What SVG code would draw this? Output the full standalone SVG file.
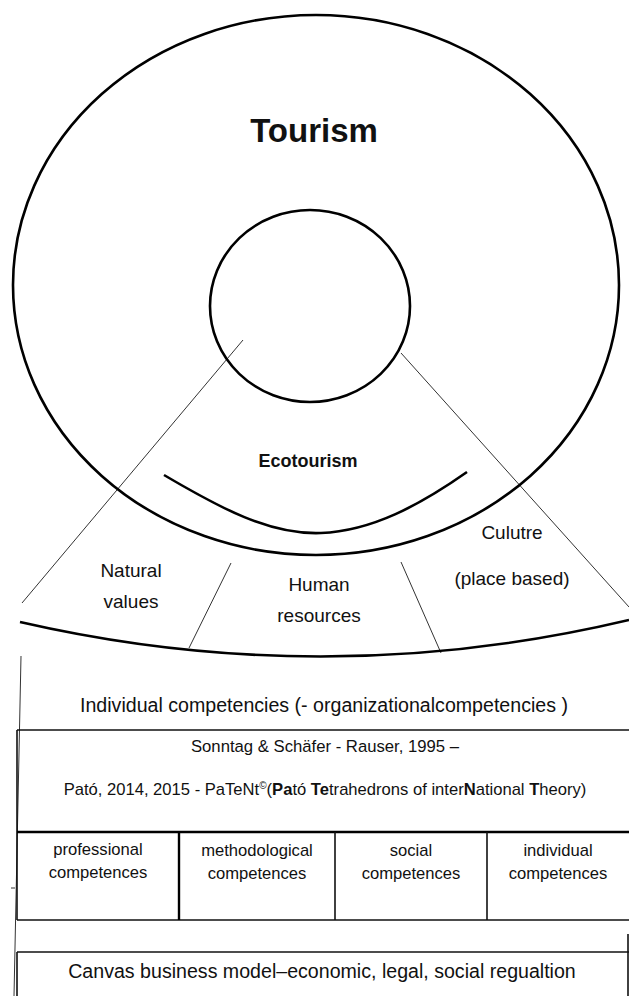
<svg xmlns="http://www.w3.org/2000/svg" width="629" height="996" viewBox="0 0 629 996">
<style>
text{font-family:"Liberation Sans",Arial,sans-serif;fill:#111;text-anchor:middle}
.thick{fill:none;stroke:#000;stroke-width:2.6}
.thin{fill:none;stroke:#333;stroke-width:1}
.box{fill:none;stroke:#111;stroke-width:1.6}
.lbl{font-size:19px}
.cell{font-size:16.6px}
b,.b{font-weight:bold}
</style>
<rect width="629" height="996" fill="#fff"/>
<g id="connectors">
<line class="thin" x1="243" y1="340" x2="22" y2="603"/>
<line class="thin" x1="401" y1="353" x2="629" y2="607"/>
<line class="thin" x1="231" y1="563" x2="189" y2="648"/>
<line class="thin" x1="401" y1="562" x2="441" y2="653"/>
<line class="thin" x1="21" y1="656" x2="14" y2="996"/>
<line class="thin" x1="11" y1="888" x2="15" y2="888"/>
</g>
<g id="tourism">
<ellipse class="thick" cx="316" cy="285" rx="303" ry="270"/>
<text x="314" y="142" font-size="33" class="b">Tourism</text>
</g>
<g id="ecotourism">
<ellipse class="thick" cx="310" cy="306" rx="100" ry="96"/>
<text x="308" y="467" font-size="18" class="b">Ecotourism</text>
<path class="thick" d="M164,475 C220,508 270,535 321,533 C372,531 420,505 467,472"/>
</g>
<g id="fan">
<path class="thick" d="M20,622 Q325,692 629,620"/>
</g>
<g id="natural-values">
<text class="lbl" x="131" y="577">Natural</text>
<text class="lbl" x="131" y="608">values</text>
</g>
<g id="human-resources">
<text class="lbl" x="319" y="591">Human</text>
<text class="lbl" x="319" y="622">resources</text>
</g>
<g id="culture">
<text class="lbl" x="512" y="539">Culutre</text>
<text class="lbl" x="512" y="585">(place based)</text>
</g>
<g id="individual-competencies">
<text x="324" y="712" font-size="19.6">Individual competencies (- organizationalcompetencies )</text>
</g>
<g id="theory-box">
<line class="box" x1="17" y1="730" x2="629" y2="730"/>
<line class="box" x1="17" y1="730" x2="17" y2="920"/>
<text x="325" y="752" font-size="16.7">Sonntag &amp; Schäfer - Rauser, 1995 –</text>
<text x="325" y="795" font-size="16.6">Pató, 2014, 2015 - PaTeNt<tspan font-size="10" dy="-6">©</tspan><tspan dy="6">(</tspan><tspan font-weight="bold">Pa</tspan>tó <tspan font-weight="bold">Te</tspan>trahedrons of inter<tspan font-weight="bold">N</tspan>ational <tspan font-weight="bold">T</tspan>heory)</text>
</g>
<g id="competences">
<line class="thick" x1="17" y1="832" x2="629" y2="832" style="stroke-width:2.4"/>
<line class="box" x1="17" y1="920" x2="629" y2="920"/>
<line class="thick" x1="179" y1="832" x2="179" y2="920" style="stroke-width:2.4"/>
<line class="box" x1="335" y1="832" x2="335" y2="920"/>
<line class="box" x1="487" y1="832" x2="487" y2="920"/>
<text class="cell" x="98" y="855">professional</text>
<text class="cell" x="98" y="878">competences</text>
<text class="cell" x="257" y="856">methodological</text>
<text class="cell" x="257" y="879">competences</text>
<text class="cell" x="411" y="856">social</text>
<text class="cell" x="411" y="879">competences</text>
<text class="cell" x="558" y="856">individual</text>
<text class="cell" x="558" y="879">competences</text>
</g>
<g id="canvas-model">
<line class="box" x1="17" y1="952" x2="629" y2="952"/>
<line class="box" x1="17" y1="952" x2="17" y2="996"/>
<line class="box" x1="628" y1="934" x2="628" y2="996"/>
<text x="322" y="978" font-size="19.6">Canvas business model–economic, legal, social regualtion</text>
</g>
</svg>
